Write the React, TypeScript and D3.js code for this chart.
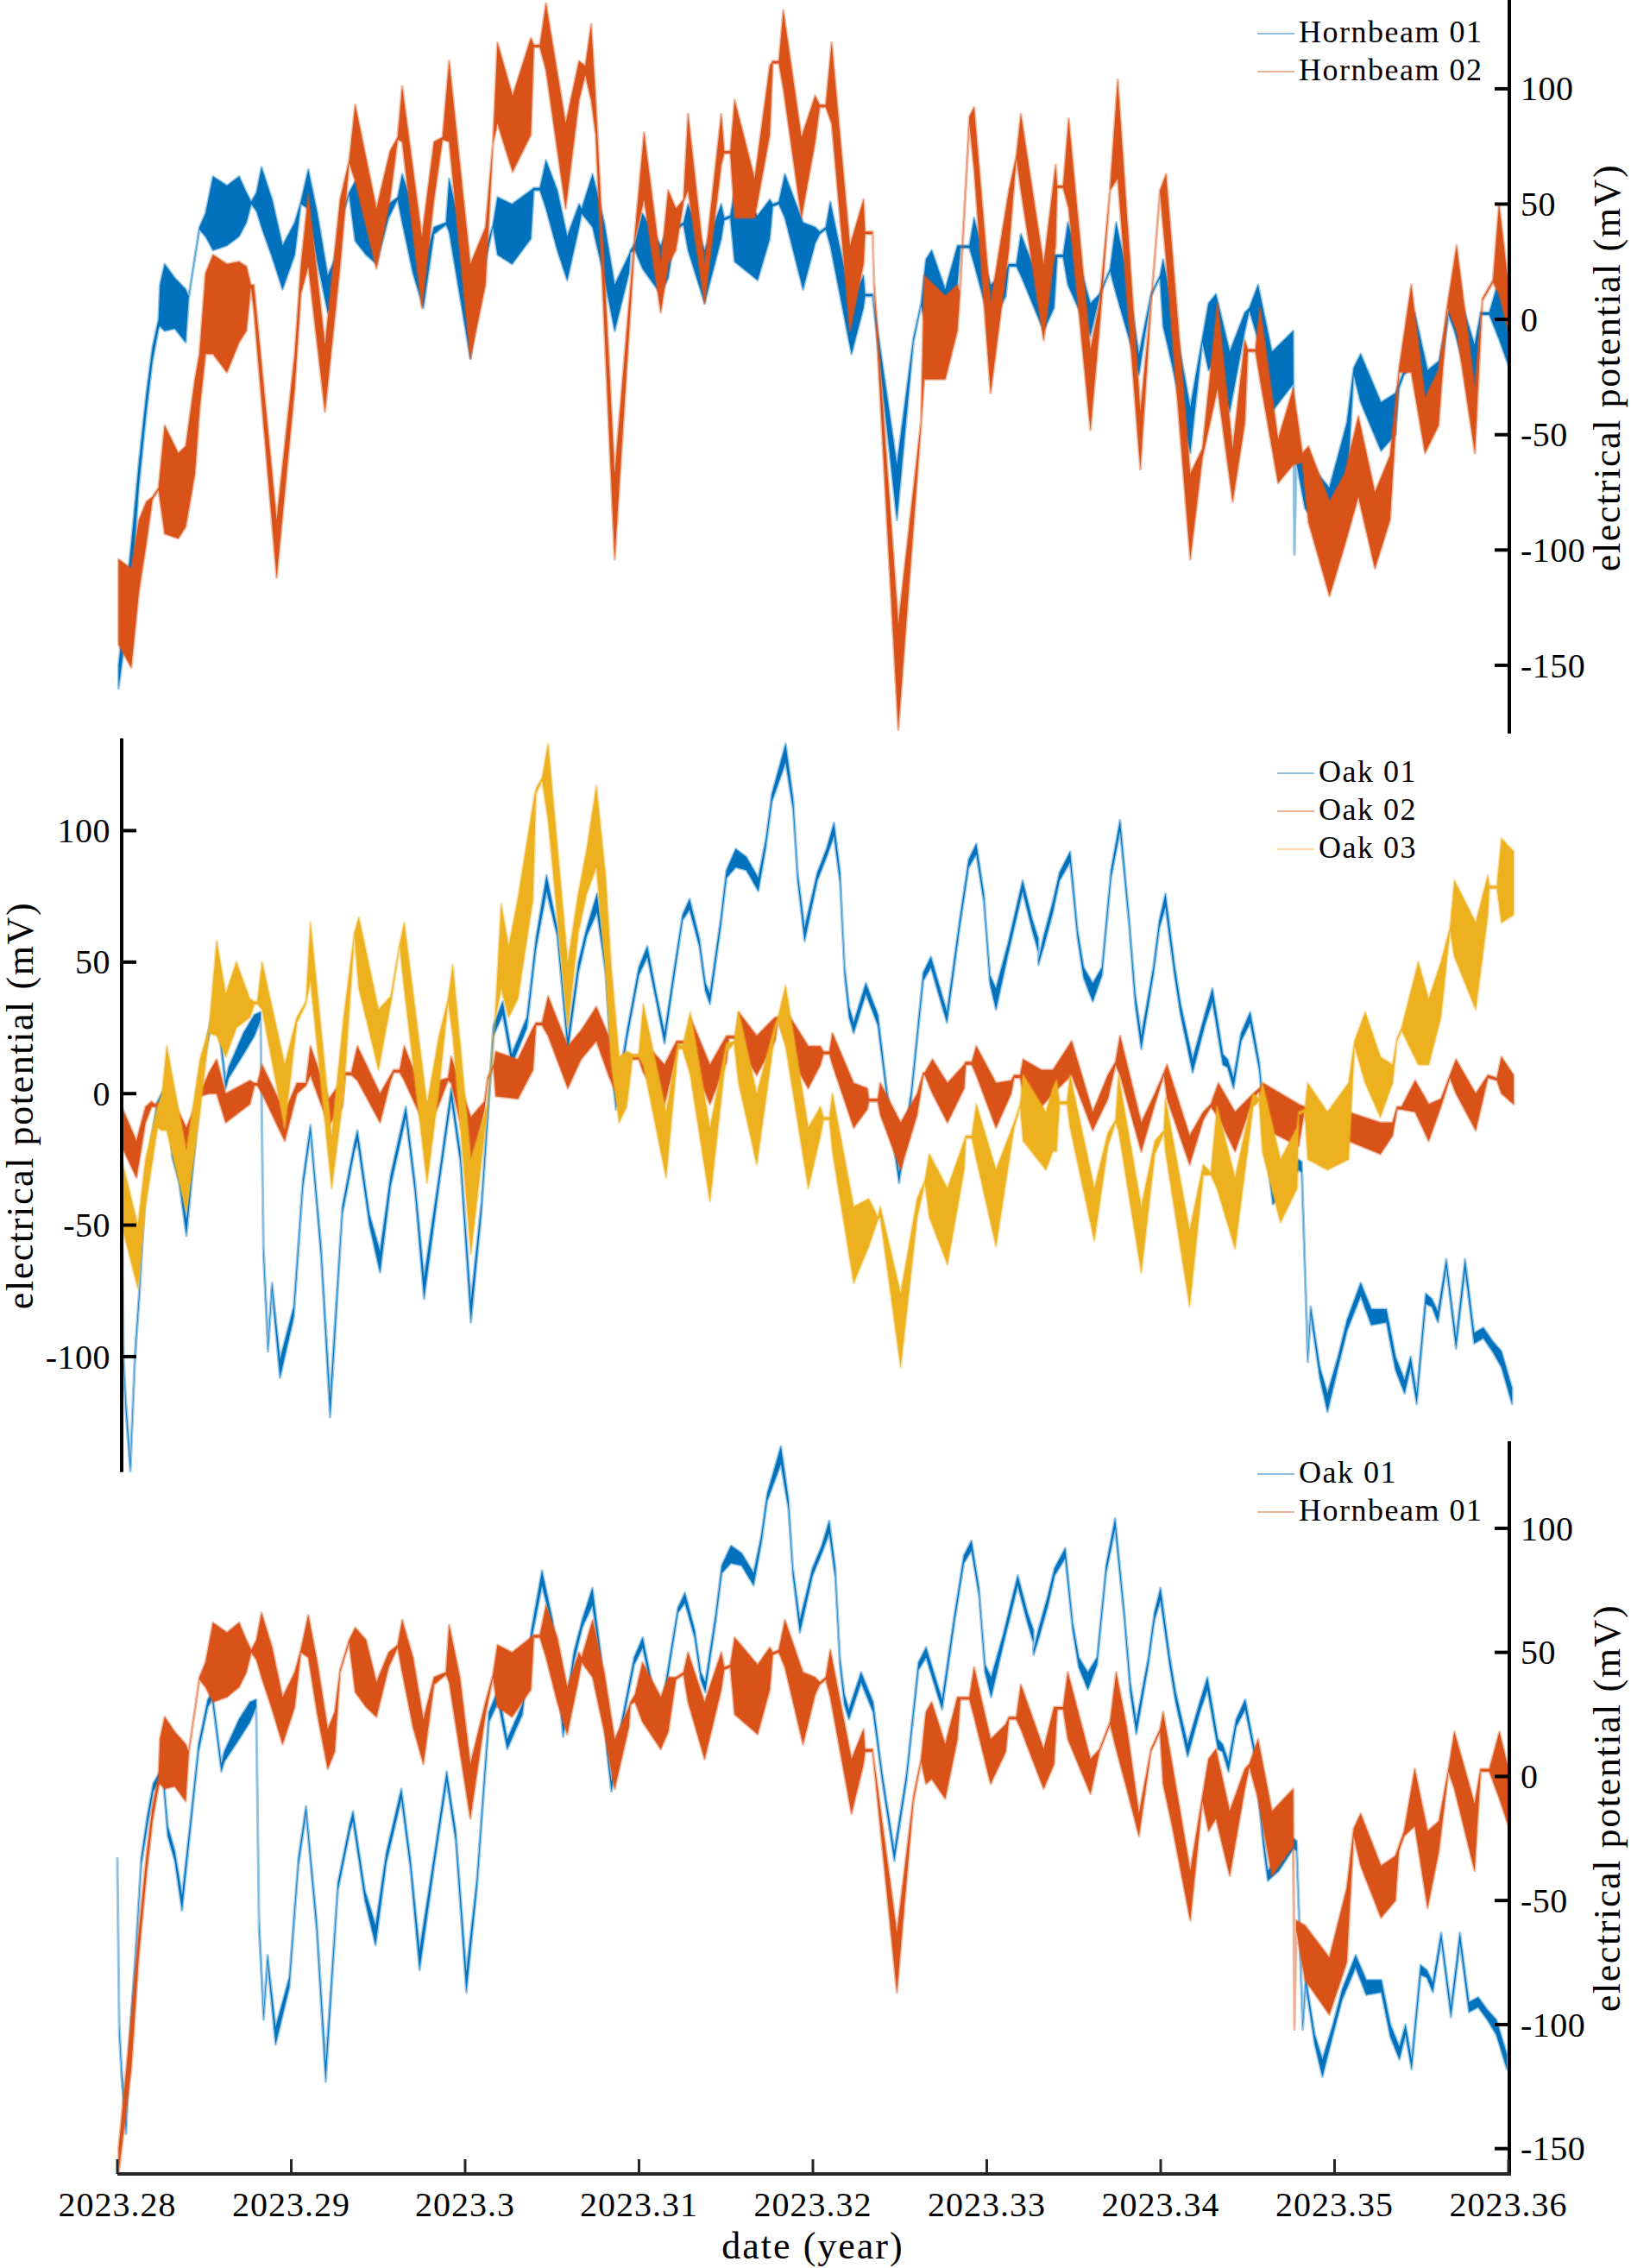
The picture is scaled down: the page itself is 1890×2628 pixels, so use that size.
import React from "react";
import * as d3 from "d3";

// time is given in thousandths of a year after START; each point is [t, low, high] in mV
// (low/high = envelope of the fast daily oscillation, equal-ish where the trace is a thin line)
const START = 2023.28;

const hornbeam01: [number, number, number][] = [
  [0.07, -160, -150], [0.8, -118, -97], [1.24, -72, -62], [1.67, -40, -32], [2.02, -18, -12],
  [2.37, -4, 0], [2.45, -3, 15], [2.72, -5, 24], [3.3, -4, 18], [3.93, -10, 13], [4.1, 9, 10],
  [4.72, 39, 40], [5.07, 36, 46], [5.5, 30, 62], [6.3, 32, 58], [7.0, 36, 62], [7.42, 42, 55],
  [7.7, 50, 51], [8.0, 47, 55], [8.29, 40, 66], [8.9, 27, 52], [9.5, 13, 32], [10.2, 28, 42],
  [10.55, 50, 51], [10.98, 48, 65], [11.5, 25, 46], [12.1, 3, 19], [12.5, 10, 26], [12.81, 42, 43],
  [13.33, 54, 55], [13.68, 34, 60], [14.3, 28, 55], [14.9, 24, 38], [15.6, 44, 50], [16.12, 52, 53],
  [16.38, 42, 63], [17.0, 20, 48], [17.6, 5, 23], [18.21, 37, 40], [18.9, 41, 42], [19.08, 38, 61],
  [19.7, 10, 40], [20.3, -17, 5], [21.17, 25, 30], [21.6, 40, 41], [21.86, 28, 53], [22.7, 24, 50],
  [23.78, 35, 56], [23.95, 56, 57], [24.3, 56, 57], [24.65, 48, 69], [25.3, 30, 56], [25.87, 17, 36],
  [26.55, 40, 50], [26.7, 46, 48], [27.33, 40, 63], [28.0, 18, 42], [28.6, -5, 15], [29.42, 20, 28],
  [29.51, 29, 30], [29.77, 30, 33], [30.2, 22, 46], [31.25, 11, 32], [31.68, 18, 40], [32.12, 39, 40],
  [32.56, 41, 42], [32.82, 30, 50], [33.77, 7, 30], [34.73, 35, 50], [34.9, 43, 44], [35.25, 44, 45],
  [35.5, 25, 56], [36.82, 17, 45], [37.52, 35, 52], [37.69, 49, 50], [38.04, 50, 51], [38.39, 44, 63],
  [39.43, 13, 42], [40.13, 33, 40], [40.39, 37, 38], [40.74, 39, 40], [41.0, 32, 51], [42.22, -15, 7],
  [42.91, 5, 19], [43.0, 10, 11], [43.43, 10, 11], [43.52, 4, 6], [44.83, -87, -63], [45.78, -10, -8],
  [46.22, 6, 7], [46.5, -3, 26], [46.83, -1, 30], [47.61, -9, 13], [48.31, 15, 32], [48.48, 31, 32],
  [49.0, 31, 32], [49.27, 24, 44], [50.22, -3, 15], [51.09, 10, 21], [51.27, 23, 24], [51.7, 23, 24],
  [51.96, 19, 37], [53.27, -5, 11], [53.87, 5, 28], [54.05, 27, 28], [54.39, 27, 28], [54.66, 15, 42],
  [55.96, -7, 7], [56.48, 10, 11], [57.09, 21, 22], [57.44, 11, 42], [58.05, -5, 20], [58.75, -24, -15],
  [59.44, 10, 11], [59.96, 18, 19], [60.14, -3, 26], [60.66, -20, 5], [61.7, -58, -38], [62.4, -10, -8],
  [62.75, -22, 7], [63.18, -17, 11], [63.97, -40, -14], [64.84, -5, 3], [65.1, 4, 5], [65.6, -9, 15],
  [66.4, -40, -14], [67.62, -28, -5], [67.69, -102, -100], [67.8, -62, -58], [68.3, -82, -60],
  [69.7, -96, -73], [70.7, -75, -45], [71.1, -24, -21], [71.5, -36, -15], [72.67, -57, -36],
  [73.5, -50, -32], [73.7, -30, -28], [74.0, -24, -22], [74.61, -20, 3], [75.35, -53, -22],
  [76.0, -30, -18], [76.55, 2, 3], [76.89, -5, 18], [78.05, -38, -11], [78.4, 2, 3], [78.9, 2, 3],
  [79.48, -9, 18], [80.0, -20, 3],
];

const hornbeam02: [number, number, number][] = [
  [0.07, -141, -104], [0.8, -151, -108], [1.24, -118, -87], [1.67, -97, -79], [2.02, -78, -77],
  [2.37, -74, -73], [2.72, -93, -46], [3.5, -95, -58], [3.93, -90, -55], [4.46, -67, -26],
  [4.72, -40, -15], [5.07, -15, 20], [5.5, -15, 28], [6.3, -23, 24], [7.0, -10, 25], [7.42, -5, 23],
  [7.68, 14, 15], [7.85, 4, 15], [9.16, -112, -87], [10.2, -30, -15], [10.55, 11, 23], [10.98, 23, 54],
  [11.94, -40, -11], [12.81, 23, 52], [13.33, 68, 69], [13.68, 60, 93], [14.9, 22, 48], [15.68, 52, 73],
  [16.12, 78, 79], [16.38, 77, 101], [17.51, 5, 36], [18.21, 52, 77], [18.7, 78, 79], [19.08, 77, 112],
  [20.3, -17, 24], [21.17, 15, 40], [21.6, 76, 77], [21.86, 85, 120], [22.73, 64, 97], [23.78, 80, 122],
  [23.95, 118, 119], [24.3, 118, 119], [24.65, 108, 137], [25.78, 48, 85], [26.55, 95, 112],
  [26.91, 106, 110], [27.25, 95, 128], [27.51, 80, 95], [28.6, -104, -67], [29.77, 35, 38],
  [30.29, 52, 81], [31.25, 3, 24], [31.68, 24, 56], [32.12, 30, 48], [32.56, 51, 52], [32.82, 56, 89],
  [33.77, 7, 24], [34.73, 67, 89], [34.9, 72, 73], [35.25, 72, 73], [35.5, 44, 95], [36.65, 44, 61],
  [37.52, 80, 110], [37.69, 111, 112], [38.04, 111, 112], [38.3, 100, 134], [39.34, 44, 79],
  [40.13, 77, 97], [40.39, 92, 93], [40.74, 92, 93], [41.08, 85, 120], [42.13, -5, 32], [42.91, 24, 52],
  [43.0, 37, 38], [43.43, 37, 38], [43.52, 14, 16], [44.91, -178, -132], [46.22, -46, -44],
  [46.4, -26, 19], [47.61, -26, 10], [48.31, -5, 15], [48.45, 10, 12], [49.0, 85, 88], [49.27, 65, 92],
  [50.22, -32, 7], [51.27, 30, 56], [51.7, 70, 71], [51.96, 56, 89], [53.27, -9, 24], [53.96, 32, 67],
  [54.05, 57, 58], [54.39, 57, 58], [54.71, 48, 87], [55.96, -48, -13], [56.48, -4, 7], [57.09, 56, 57],
  [57.53, 61, 104], [58.83, -65, -40], [59.44, 5, 7], [59.96, 55, 56], [60.31, 26, 63], [61.7, -104, -67],
  [62.4, -60, -56], [63.27, -30, 7], [64.14, -79, -56], [64.84, -45, -9], [65.01, -14, -13],
  [65.45, -14, -13], [65.71, -26, 5], [66.75, -71, -52], [67.62, -63, -30], [68.15, -62, -58],
  [68.5, -88, -55], [69.71, -120, -79], [70.58, -98, -67], [71.37, -77, -42], [72.32, -108, -75],
  [73.19, -87, -59], [73.71, -23, -21], [74.41, -23, 15], [75.2, -58, -34], [75.98, -46, -22],
  [76.5, 5, 7], [77.02, -5, 32], [78.07, -58, -30], [78.5, 8, 9], [79.11, 16, 17], [79.46, 11, 50],
  [80.0, -5, 15],
];

const oak01: [number, number, number][] = [
  [0.0, -37, -33], [0.11, -104, -100], [0.24, -121, -117], [0.5, -144, -140], [0.76, -102, -99],
  [1.02, -77, -74], [1.37, -36, -33], [1.72, -20, -16], [2.06, -6, -3], [2.6, 1, 4], [2.9, -24, -20],
  [3.3, -34, -30], [3.72, -54, -48], [4.15, -25, -21], [4.67, 10, 13], [5.2, 28, 31], [5.46, 31, 34],
  [5.98, 2, 5], [6.15, 6, 10], [7.0, 15, 23], [7.63, 22, 30], [7.98, 28, 31], [8.15, -62, -58],
  [8.41, -98, -95], [8.64, -75, -72], [9.1, -108, -101], [9.89, -85, -81], [10.41, -36, -33],
  [10.85, -15, -12], [11.46, -62, -58], [11.98, -123, -116], [12.68, -46, -43], [13.37, -22, -19],
  [13.55, -18, -14], [14.24, -50, -46], [14.85, -68, -60], [15.46, -35, -31], [16.33, -9, -5],
  [16.85, -37, -33], [17.38, -78, -70], [18.24, -35, -31], [18.94, -2, 2], [19.46, -26, -22],
  [20.07, -87, -79], [20.68, -45, -41], [21.37, 22, 26], [21.9, 30, 35], [22.42, 11, 15], [23.29, 25, 29],
  [23.81, 55, 59], [24.42, 77, 83], [25.03, 60, 63], [25.64, 16, 21], [26.25, 46, 50], [26.73, 60, 63],
  [27.32, 69, 76], [27.81, 46, 49], [28.15, 10, 13], [28.41, -6, -2], [29.02, 20, 23], [29.72, 45, 48],
  [30.21, 52, 56], [30.76, 34, 37], [31.2, 19, 23], [31.81, 47, 50], [32.24, 66, 68], [32.64, 70, 74],
  [33.2, 56, 59], [33.55, 39, 42], [33.81, 34, 38], [34.42, 63, 66], [34.76, 82, 85], [35.29, 86, 93],
  [35.9, 85, 90], [36.59, 77, 82], [37.03, 94, 97], [37.37, 111, 114], [38.16, 126, 133],
  [38.59, 108, 112], [38.85, 81, 84], [39.25, 58, 63], [39.98, 81, 84], [40.51, 90, 93],
  [40.94, 98, 103], [41.29, 80, 84], [41.55, 45, 48], [41.81, 29, 33], [42.07, 23, 27], [42.77, 38, 42],
  [43.46, 26, 30], [43.99, -2, 1], [44.68, -34, -30], [45.38, -2, 1], [46.07, 43, 46], [46.51, 48, 52],
  [47.12, 34, 38], [47.43, 27, 31], [48.16, 63, 66], [48.68, 86, 89], [49.12, 91, 95], [49.55, 73, 76],
  [49.9, 42, 45], [50.25, 32, 40], [50.94, 53, 57], [51.78, 77, 81], [52.34, 62, 66], [52.68, 54, 59],
  [52.69, 49, 51], [53.0, 56, 60], [53.52, 69, 73], [53.9, 81, 84], [54.51, 88, 92], [54.94, 59, 62],
  [55.29, 44, 48], [55.81, 35, 42], [56.34, 45, 48], [56.86, 82, 85], [57.38, 100, 104], [57.9, 64, 67],
  [58.25, 34, 38], [58.6, 17, 22], [59.29, 45, 48], [59.64, 63, 66], [59.99, 71, 76], [60.51, 45, 49],
  [60.86, 30, 34], [61.55, 8, 13], [62.25, 26, 30], [62.69, 35, 40], [63.29, 11, 15], [63.56, 10, 13],
  [63.9, 2, 6], [64.34, 20, 23], [64.86, 27, 31], [65.38, 9, 12], [65.9, -28, -24], [66.16, -42, -38],
  [66.8, -38, -32], [67.64, -29, -25], [67.82, -30, -26], [68.17, -102, -99], [68.34, -84, -81],
  [68.86, -108, -104], [69.3, -121, -114], [69.91, -104, -100], [70.43, -90, -86], [71.21, -77, -72],
  [71.82, -88, -82], [72.69, -87, -82], [73.21, -105, -100], [73.73, -114, -109], [74.08, -104, -100],
  [74.43, -118, -114], [74.95, -80, -76], [75.3, -81, -78], [75.65, -87, -83], [76.13, -66, -63],
  [76.69, -97, -93], [77.21, -67, -63], [77.73, -95, -91], [78.26, -93, -89], [78.78, -98, -94],
  [79.3, -104, -98], [79.91, -118, -112],
];

const oak02: [number, number, number][] = [
  [0.0, -20, -5], [0.85, -32, -18], [1.37, -11, -5], [1.72, -5, -3], [1.89, -5, -4], [2.32, -5, -3],
  [3.0, -8, -3], [3.72, -22, -13], [4.5, -1, 0], [5.02, 0, 8], [5.46, 0, 13], [5.98, -11, 0],
  [7.37, -4, 5], [7.63, 3, 4], [7.8, 3, 4], [8.07, 0, 11], [9.37, -18, -7], [10.07, 0, 4], [10.59, 3, 4],
  [10.85, 7, 18], [11.9, -12, -2], [12.68, -5, 5], [12.85, 7, 8], [13.2, 7, 8], [13.55, 5, 18],
  [14.85, -11, 0], [15.46, 5, 7], [15.63, 8, 9], [15.98, 8, 9], [16.24, 5, 18], [17.55, -14, -4],
  [18.24, -4, 5], [18.76, 5, 6], [18.94, 4, 14], [20.07, -29, -9], [20.85, -6, -3], [21.03, 5, 6],
  [21.37, 10, 11], [21.5, -1, 16], [22.77, -2, 13], [23.64, 9, 25], [23.81, 26, 27], [24.16, 26, 27],
  [24.51, 22, 37], [25.64, 2, 18], [26.4, 13, 24], [27.28, 20, 33], [27.98, 7, 22], [28.41, 0, 7],
  [29.02, 13, 14], [29.72, 13, 14], [29.98, 8, 20], [31.2, -4, 11], [31.89, 15, 20], [31.98, 19, 20],
  [32.5, 19, 20], [32.68, 14, 29], [33.81, -4, 11], [34.76, 12, 22], [34.9, 21, 22], [35.29, 21, 22],
  [35.46, 18, 31], [36.5, 7, 22], [37.55, 20, 29], [37.72, 28, 29], [38.42, 14, 29], [39.46, 2, 18],
  [40.16, 11, 18], [40.33, 15, 16], [40.68, 15, 16], [40.85, 11, 23], [42.07, -13, 4], [42.85, -6, 2],
  [42.94, -3, -2], [43.46, -3, -2], [43.6, -8, 4], [44.77, -29, -11], [45.72, -8, 0], [46.07, 7, 8],
  [46.16, 7, 8], [46.6, 0, 13], [47.46, -11, 4], [48.42, 2, 11], [48.51, 11, 12], [48.86, 11, 12],
  [49.12, 7, 18], [50.25, -13, 4], [51.12, 0, 5], [51.29, 6, 7], [51.64, 6, 7], [51.81, 0, 13],
  [52.86, -5, 9], [53.52, 0, 9], [54.6, 7, 20], [55.81, -14, -7], [56.68, -2, 7], [57.12, 11, 12],
  [57.38, 7, 22], [58.6, -22, -11], [59.38, -4, 0], [59.9, 7, 8], [60.08, -2, 11], [61.38, -27, -16],
  [62.16, -10, -7], [62.6, -5, -4], [63.03, -9, 4], [63.99, -22, -7], [65.03, -2, 0], [65.38, 1, 2],
  [65.6, -13, 4], [67.64, -20, -4], [67.99, -6, -5], [68.3, -18, -7], [70.5, -18, -7], [72.34, -23, -11],
  [73.04, -16, -11], [73.3, -6, -5], [73.56, -6, -5], [74.34, -7, 5], [75.12, -18, -4], [75.82, -5, -2],
  [76.34, 6, 7], [76.69, 0, 13], [77.82, -14, 0], [78.52, 6, 7], [79.04, 5, 6], [79.3, 0, 14],
  [80.0, -4, 7],
];

const oak03: [number, number, number][] = [
  [0.0, -50, -25], [0.93, -74, -50], [1.37, -43, -25], [2.06, -13, -5], [2.32, -14, 0], [2.59, -14, 18],
  [3.72, -45, -22], [4.5, -7, 13], [5.02, 23, 25], [5.46, 22, 58], [5.98, 14, 38], [6.59, 25, 50],
  [7.37, 29, 36], [7.63, 34, 35], [7.8, 34, 35], [8.07, 32, 50], [9.37, -13, 11], [10.07, 27, 29],
  [10.59, 34, 35], [10.85, 43, 65], [12.07, -36, -16], [12.76, 0, 29], [13.37, 60, 61], [13.63, 40, 67],
  [14.76, 9, 32], [15.46, 34, 37], [15.98, 56, 57], [16.24, 40, 65], [17.55, -34, -4], [18.24, 2, 22],
  [18.76, 35, 36], [19.03, 22, 49], [20.07, -61, -25], [21.03, -5, -4], [21.46, 28, 29], [21.81, 40, 72],
  [22.24, 29, 56], [22.77, 36, 74], [23.64, 74, 110], [23.81, 114, 116], [24.16, 119, 120],
  [24.51, 104, 133], [25.64, 25, 50], [26.24, 61, 76], [26.73, 76, 93], [27.28, 86, 117],
  [27.81, 47, 83], [28.15, 11, 47], [28.59, -11, 14], [29.02, -5, 16], [29.37, 14, 15], [29.72, 14, 15],
  [29.98, 11, 34], [31.29, -32, -7], [31.98, 17, 19], [32.24, 17, 18], [32.68, 7, 31], [33.81, -41, -13],
  [34.76, 16, 19], [35.2, 19, 20], [35.46, 4, 31], [36.5, -27, 0], [37.55, 23, 26], [37.72, 28, 29],
  [38.16, 18, 41], [39.46, -36, -13], [40.16, -16, -5], [40.33, -10, -9], [40.68, -10, -9],
  [40.85, -22, 0], [42.07, -72, -43], [42.94, -58, -40], [43.46, -48, -47], [43.6, -47, -43],
  [44.77, -104, -76], [45.72, -47, -40], [46.16, -34, -33], [46.42, -47, -23], [47.46, -65, -36],
  [48.42, -29, -18], [48.51, -17, -16], [48.86, -17, -16], [49.12, -25, -4], [50.25, -58, -29],
  [51.29, -13, -11], [51.64, -5, -4], [51.81, -18, 7], [53.12, -29, -7], [53.52, -22, 2], [53.73, -22, 5],
  [53.9, -4, -3], [54.33, -4, -3], [54.51, -13, 7], [55.9, -56, -36], [56.68, -20, -15], [57.12, -11, -10],
  [57.29, -14, 7], [58.6, -68, -43], [59.38, -23, -18], [59.9, -15, -14], [59.99, -22, -2],
  [61.38, -81, -52], [62.16, -31, -27], [62.6, -31, -30], [62.95, -36, -5], [63.99, -59, -32],
  [65.03, -5, 0], [65.38, -3, -2], [65.56, -22, 4], [66.6, -49, -25], [67.56, -36, -13], [67.64, -8, -7],
  [68.0, -7, -6], [68.17, -25, 4], [69.3, -29, -7], [70.51, -25, 4], [70.86, 18, 20], [71.47, 4, 31],
  [72.34, -9, 14], [73.04, 4, 11], [73.3, 20, 21], [73.56, 24, 25], [74.52, 11, 50], [75.12, 11, 36],
  [75.82, 29, 50], [76.34, 62, 63], [76.6, 52, 81], [77.82, 32, 65], [78.52, 68, 83], [78.6, 78, 79],
  [79.04, 78, 79], [79.3, 65, 97], [80.0, 68, 92],
];

const X_TICKS = [2023.28, 2023.29, 2023.3, 2023.31, 2023.32, 2023.33, 2023.34, 2023.35, 2023.36];
const Y_TICKS_TOP = [-150, -100, -50, 0, 50, 100];
const Y_TICKS_MID = [-100, -50, 0, 50, 100];
const Y_TICKS_BOT = [-150, -100, -50, 0, 50, 100];

const BLUE = "#0072BD";
const ORANGE = "#D95319";
const YELLOW = "#EDB120";
const FONT = "'Liberation Serif', 'Times New Roman', serif";

type Pt = [number, number, number];

type Panel = {
  id: string;
  x0: number;
  x1: number;
  yTop: number;
  yBottom: number;
  vTop: number;
  vBottom: number;
  axisX: number;
  side: "left" | "right";
  ticks: number[];
  labelY: number;
  series: { name: string; data: Pt[]; color: string }[];
  legend: { lineX: number; textX: number; baseline: number };
};

const panels: Panel[] = [
  {
    id: "top",
    x0: 136, x1: 1748, yTop: 0, yBottom: 850, vTop: 138.5, vBottom: -179.6,
    axisX: 1749, side: "right", ticks: Y_TICKS_TOP, labelY: 426,
    series: [
      { name: "Hornbeam 01", data: hornbeam01, color: BLUE },
      { name: "Hornbeam 02", data: hornbeam02, color: ORANGE },
    ],
    legend: { lineX: 1457, textX: 1505, baseline: 49 },
  },
  {
    id: "mid",
    x0: 141, x1: 1754, yTop: 855.5, yBottom: 1705.7, vTop: 135.1, vBottom: -143.9,
    axisX: 141, side: "left", ticks: Y_TICKS_MID, labelY: 1281,
    series: [
      { name: "Oak 01", data: oak01, color: BLUE },
      { name: "Oak 02", data: oak02, color: ORANGE },
      { name: "Oak 03", data: oak03, color: YELLOW },
    ],
    legend: { lineX: 1480, textX: 1528, baseline: 906 },
  },
  {
    id: "bot",
    x0: 136, x1: 1748, yTop: 1670, yBottom: 2519, vTop: 135.1, vBottom: -160.2,
    axisX: 1749, side: "right", ticks: Y_TICKS_BOT, labelY: 2095,
    series: [
      { name: "Oak 01", data: oak01, color: BLUE },
      { name: "Hornbeam 01", data: hornbeam01, color: ORANGE },
    ],
    legend: { lineX: 1457, textX: 1505, baseline: 1718 },
  },
];

const PanelView = ({ p }: { p: Panel }) => {
  const x = d3.scaleLinear().domain([START, START + 0.08]).range([p.x0, p.x1]);
  const y = d3.scaleLinear().domain([p.vBottom, p.vTop]).range([p.yBottom, p.yTop]);
  const area = d3
    .area<Pt>()
    .x((d) => x(START + d[0] / 1000))
    .y0((d) => y(d[1]))
    .y1((d) => y(d[2]));
  const tickDir = p.side === "right" ? -1 : 1;
  const labelX = p.side === "right" ? 1877 : 38;

  return (
    <g>
      <defs>
        <clipPath id={`clip-${p.id}`}>
          <rect x={p.x0 - 6} y={p.yTop} width={p.x1 - p.x0 + 12} height={p.yBottom - p.yTop} />
        </clipPath>
      </defs>
      <g clipPath={`url(#clip-${p.id})`}>
        {p.series.map((s) => (
          <path
            key={s.name}
            d={area(s.data) ?? ""}
            fill={s.color}
            stroke={s.color}
            strokeWidth={3}
            strokeOpacity={0.4}
            strokeLinejoin="round"
          />
        ))}
      </g>

      <line x1={p.axisX} x2={p.axisX} y1={p.yTop} y2={p.yBottom} stroke="#000" strokeWidth={4} />
      {p.ticks.map((t) => (
        <g key={t}>
          <line
            x1={p.axisX}
            x2={p.axisX + tickDir * 17}
            y1={y(t)}
            y2={y(t)}
            stroke="#000"
            strokeWidth={4}
          />
          <text
            x={p.side === "right" ? 1762 : 128}
            y={y(t)}
            dy="0.34em"
            textAnchor={p.side === "right" ? "start" : "end"}
            fontFamily={FONT}
            fontSize={40}
            letterSpacing={0.5}
          >
            {String(t)}
          </text>
        </g>
      ))}
      <text
        transform={`translate(${labelX},${p.labelY}) rotate(-90)`}
        textAnchor="middle"
        fontFamily={FONT}
        fontSize={44}
        letterSpacing={1.6}
      >
        electrical potential (mV)
      </text>

      {p.series.map((s, i) => (
        <g key={s.name}>
          <line
            x1={p.legend.lineX}
            x2={p.legend.lineX + 43}
            y1={p.legend.baseline - 10 + i * 44}
            y2={p.legend.baseline - 10 + i * 44}
            stroke={s.color}
            strokeWidth={1.4}
            strokeOpacity={0.6}
          />
          <text
            x={p.legend.textX}
            y={p.legend.baseline + i * 44}
            fontFamily={FONT}
            fontSize={36}
            letterSpacing={1.5}
          >
            {s.name}
          </text>
        </g>
      ))}
    </g>
  );
};

const App = () => {
  const bot = panels[2];
  const x = d3.scaleLinear().domain([START, START + 0.08]).range([bot.x0, bot.x1]);
  return (
    <svg
      width={1890}
      height={2628}
      viewBox="0 0 1890 2628"
      style={{ position: "absolute", left: 0, top: 0, background: "#fff" }}
    >
      <rect width={1890} height={2628} fill="#fff" />
      {panels.map((p) => (
        <PanelView key={p.id} p={p} />
      ))}

      {/* shared date axis under the bottom panel */}
      <line x1={bot.x0} x2={bot.axisX + 2} y1={bot.yBottom} y2={bot.yBottom} stroke="#262626" strokeWidth={4} />
      {X_TICKS.map((t) => (
        <g key={t}>
          <line
            x1={x(t)}
            x2={x(t)}
            y1={bot.yBottom}
            y2={bot.yBottom - 17}
            stroke="#262626"
            strokeWidth={3}
          />
          <text
            x={x(t)}
            y={2568}
            textAnchor="middle"
            fontFamily={FONT}
            fontSize={40}
            letterSpacing={1}
          >
            {String(+t.toFixed(2))}
          </text>
        </g>
      ))}
      <text x={942} y={2617} textAnchor="middle" fontFamily={FONT} fontSize={44} letterSpacing={2}>
        date (year)
      </text>
    </svg>
  );
};

export default App;
